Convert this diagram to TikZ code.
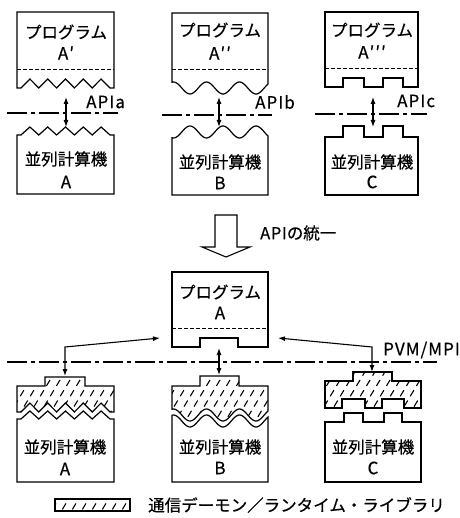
\documentclass[tikz,border=0pt]{standalone}
\usepackage{fontspec}
\setmainfont{Noto Sans CJK JP}[FakeBold=0.5]
\usetikzlibrary{arrows.meta}
\begin{document}
\begin{tikzpicture}[x=1pt,y=-1pt,
  box/.style={line width=1.2pt, fill=white, line join=miter},
  midline/.style={line width=0.8pt, dash pattern=on 3.5pt off 2.5pt},
  apiline/.style={line width=1.1pt, dash pattern=on 20pt off 4pt on 4pt off 4pt},
  dbl/.style={{Latex[length=7pt,width=5pt]}-{Latex[length=7pt,width=5pt]}, line width=1.1pt},
  lbl/.style={font=\fontsize{16.5}{18}\selectfont\addfontfeature{FakeBold=0.5}, inner sep=0pt},
  lat/.style={font=\fontsize{17}{18}\selectfont\addfontfeature{LetterSpace=6,FakeBold=0.5}, inner sep=0pt},
  hatchline/.style={line width=1.1pt, dash pattern=on 7pt off 5pt}]
\useasboundingbox (0,0) rectangle (459,518);
\newcommand\dohatch[1]{\begin{scope}\clip #1;
  \foreach \hx in {-120,-110,...,480} {\draw[hatchline] (\hx,530) -- ++(120,-200);}
  \end{scope}}
% ---------- paths ----------
\def\progA{(17,12) -- (114,12) -- (114,88) -- (110,88) -- (101.1,79) -- (92.2,88) -- (83.3,79) -- (74.4,88) -- (65.5,79) -- (56.6,88) -- (47.7,79) -- (38.8,88) -- (29.9,79) -- (21,88) -- (17,88) -- cycle}
\def\machA{(17,194) -- (17,135) -- (21,135) -- (29.9,127) -- (38.8,135) -- (47.7,127) -- (56.6,135) -- (65.5,127) -- (74.4,135) -- (83.3,127) -- (92.2,135) -- (101.1,127) -- (110,135) -- (114,135) -- (114,194) -- cycle}
\def\progB{(172,13) -- (268,13) -- plot[domain=268:172,samples=70] (\x,{88+6*cos(10.909*(\x-190))}) -- cycle}
\def\machB{(172,195) -- (268,195) -- plot[domain=268:172,samples=70] (\x,{132-6*cos(10.909*(\x-190))}) -- cycle}
\def\progC{(325,12) -- (418,12) -- (418,87) -- (403,87) -- (403,78) -- (383,78) -- (383,87) -- (364,87) -- (364,78) -- (343,78) -- (343,87) -- (325,87) -- cycle}
\def\machC{(325,195) -- (325,137) -- (343,137) -- (343,126) -- (364,126) -- (364,137) -- (383,137) -- (383,126) -- (403,126) -- (403,137) -- (418,137) -- (418,195) -- cycle}
\def\progU{(172,272) -- (268,272) -- (268,347) -- (238,347) -- (238,338) -- (200,338) -- (200,347) -- (172,347) -- cycle}
\def\libA{(17,386) -- (45,386) -- (45,377) -- (85,377) -- (85,386) -- (114,386) -- (114,412) -- (110,412) -- (101.1,403) -- (92.2,412) -- (83.3,403) -- (74.4,412) -- (65.5,403) -- (56.6,412) -- (47.7,403) -- (38.8,412) -- (29.9,403) -- (21,412) -- (17,412) -- cycle}
\def\umachA{(17,482) -- (17,419) -- (21,419) -- (29.9,411) -- (38.8,419) -- (47.7,411) -- (56.6,419) -- (65.5,411) -- (74.4,419) -- (83.3,411) -- (92.2,419) -- (101.1,411) -- (110,419) -- (114,419) -- (114,482) -- cycle}
\def\libB{(172,386) -- (200,386) -- (200,376) -- (239,376) -- (239,386) -- (268,386) -- plot[domain=268:172,samples=70] (\x,{415+6*cos(10.909*(\x-190))}) -- cycle}
\def\umachB{(172,482) -- (268,482) -- plot[domain=268:172,samples=70] (\x,{421+6*cos(10.909*(\x-190))}) -- cycle}
\def\libC{(325,381) -- (353,381) -- (353,372) -- (392,372) -- (392,381) -- (421,381) -- (421,408) -- (404,408) -- (404,399) -- (382,399) -- (382,408) -- (365,408) -- (365,399) -- (342,399) -- (342,408) -- (325,408) -- cycle}
\def\umachC{(325,482) -- (325,422) -- (344,422) -- (344,413) -- (363,413) -- (363,422) -- (384,422) -- (384,413) -- (402,413) -- (402,422) -- (421,422) -- (421,482) -- cycle}
\def\legbox{(55,499) rectangle (130,511)}
% ---------- top row ----------
\draw[apiline] (7,113) -- (118,113);
\draw[apiline] (162,115) -- (272,115);
\draw[apiline] (315,114) -- (427,114);
\draw[box] \progA; \draw[box] \machA;
\draw[box] \progB; \draw[box] \machB;
\draw[box] \progC; \draw[box] \machC;
\draw[midline] (17,69) -- (114,69);
\draw[midline] (172,69) -- (268,69);
\draw[midline] (325,68) -- (418,68);
\node[lbl] (pA1) at (66,32) {プログラム};
\node[lat] (pA2) at (66,53) {A′};
\node[lbl] (pB1) at (220,30) {プログラム};
\node[lat] (pB2) at (220,53) {A′′};
\node[lbl] (pC1) at (372,30) {プログラム};
\node[lat] (pC2) at (372,52) {A′′′};
\node[lbl] (mA1) at (66,159) {並列計算機};
\node[lat] (mA2) at (66,182) {A};
\node[lbl] (mB1) at (220,162) {並列計算機};
\node[lat] (mB2) at (220,183) {B};
\node[lbl] (mC1) at (372,162) {並列計算機};
\node[lat] (mC2) at (372,182) {C};
\node[lat,anchor=west] (apia) at (86,102) {APIa};
\node[lat,anchor=west] (apib) at (255,102) {APIb};
\node[lat,anchor=west] (apic) at (397,101) {APIc};
\coordinate (ta1) at (66,97); \coordinate (ta2) at (66,127);
\coordinate (tb1) at (219,97); \coordinate (tb2) at (219,127);
\coordinate (tc1) at (373,97); \coordinate (tc2) at (373,127);
\draw[dbl] (ta1) -- (ta2);
\draw[dbl] (tb1) -- (tb2);
\draw[dbl] (tc1) -- (tc2);
% ---------- unify arrow ----------
\draw[line width=1.1pt, fill=white] (215,215) -- (237,215) -- (237,247) -- (250,247) -- (226,257) -- (202,247) -- (215,247) -- cycle;
\node[lbl,anchor=west] (unify) at (260,233) {\addfontfeature{LetterSpace=4}API\addfontfeature{LetterSpace=0}の統一};
% ---------- bottom row ----------
\draw[apiline] (7,362) -- (437,362);
\node[lat,anchor=west] (pvm) at (383,350) {PVM/MPI};
\draw[box] \progU;
\draw[midline] (172,328) -- (268,328);
\node[lbl] (pU1) at (220,292) {プログラム};
\node[lat] (pU2) at (220,313) {A};
\fill[white] \libA; \dohatch{\libA} \draw[box,fill=none] \libA;
\fill[white] \libB; \dohatch{\libB} \draw[box,fill=none] \libB;
\fill[white] \libC; \dohatch{\libC} \draw[box,fill=none] \libC;
\draw[box] \umachA; \draw[box] \umachB; \draw[box] \umachC;
\node[lbl] (uA1) at (65,447) {並列計算機};
\node[lat] (uA2) at (65,469) {A};
\node[lbl] (uB1) at (220,447) {並列計算機};
\node[lat] (uB2) at (220,468) {B};
\node[lbl] (uC1) at (373,447) {並列計算機};
\node[lat] (uC2) at (373,468) {C};
\coordinate (pl) at (160,338); \coordinate (kl) at (65,347); \coordinate (ll) at (65,376);
\coordinate (pr) at (278,338); \coordinate (kr) at (372,347); \coordinate (lr) at (372,372);
\coordinate (pc) at (219,348); \coordinate (lc) at (219,375);
\draw[dbl] (pl) -- (kl) -- (ll);
\draw[dbl] (pr) -- (kr) -- (lr);
\draw[dbl] (pc) -- (lc);
% ---------- legend ----------
\fill[white] \legbox; \dohatch{\legbox} \draw[line width=1.1pt] \legbox;
\node[lbl,anchor=west] (legtext) at (148,505) {通信デーモン／ランタイム・ライブラリ};
\end{tikzpicture}
\end{document}
